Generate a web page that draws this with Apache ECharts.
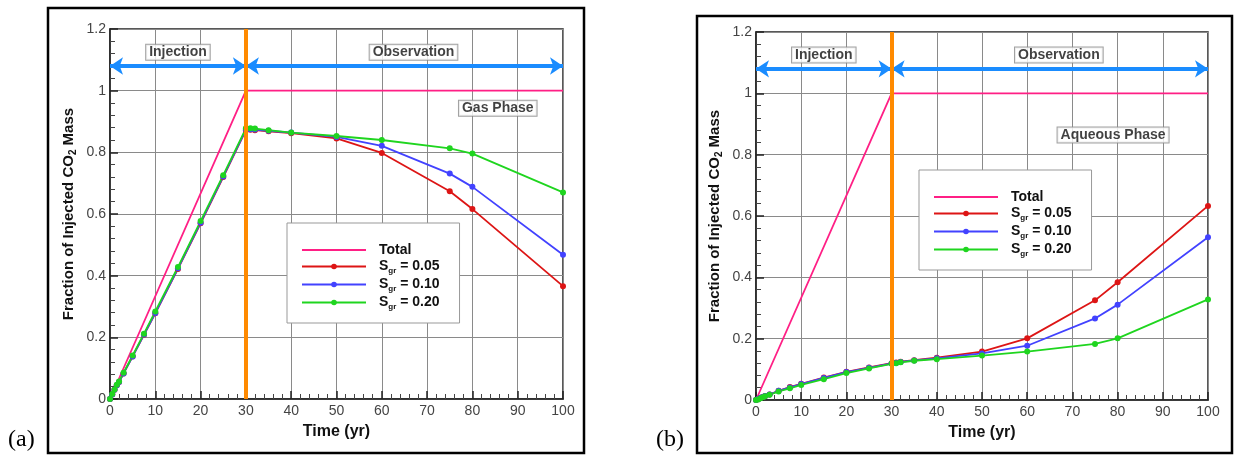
<!DOCTYPE html>
<html>
<head>
<meta charset="utf-8">
<script src="https://cdn.jsdelivr.net/npm/echarts@6/dist/echarts.min.js"></script>
<style>
  html, body { margin: 0; padding: 0; background: #fff; }
  #chart { width: 1235px; height: 461px; }
</style>
</head>
<body>
<div id="chart"></div>
<script>
// Sample times (yr) shared by the three residual-saturation cases
const times = [0, 0.5, 1, 1.5, 2, 3, 5, 7.5, 10, 15, 20, 25, 30, 31, 32, 35, 40, 50, 60, 75, 80, 100];

// Total injected mass (fraction)
const totalTimes = [0, 30, 100];
const totalValues = [0, 1, 1];

// (a) gas phase fraction
const gas05 = [0, 0.015, 0.03, 0.045, 0.055, 0.083, 0.138, 0.208, 0.278, 0.422, 0.570, 0.720, 0.872, 0.873, 0.872, 0.868, 0.862, 0.845, 0.798, 0.674, 0.616, 0.366];
const gas10 = [0, 0.015, 0.03, 0.045, 0.055, 0.083, 0.138, 0.209, 0.279, 0.424, 0.572, 0.722, 0.874, 0.875, 0.874, 0.870, 0.864, 0.850, 0.821, 0.731, 0.688, 0.468];
const gas20 = [0, 0.016, 0.031, 0.046, 0.057, 0.085, 0.141, 0.212, 0.284, 0.428, 0.577, 0.726, 0.878, 0.878, 0.877, 0.872, 0.864, 0.853, 0.840, 0.813, 0.796, 0.670];

// (b) aqueous phase fraction
const aq05 = [0, 0.003, 0.007, 0.010, 0.013, 0.018, 0.030, 0.042, 0.053, 0.073, 0.092, 0.106, 0.120, 0.122, 0.125, 0.130, 0.138, 0.158, 0.201, 0.325, 0.384, 0.633];
const aq10 = [0, 0.003, 0.007, 0.010, 0.013, 0.018, 0.030, 0.041, 0.052, 0.072, 0.091, 0.105, 0.119, 0.121, 0.124, 0.129, 0.136, 0.152, 0.177, 0.266, 0.311, 0.531];
const aq20 = [0, 0.002, 0.006, 0.009, 0.012, 0.017, 0.028, 0.038, 0.049, 0.068, 0.088, 0.103, 0.118, 0.120, 0.123, 0.128, 0.133, 0.145, 0.158, 0.183, 0.201, 0.328];

const seriesNames = ['Total', 'Sgr = 0.05', 'Sgr = 0.10', 'Sgr = 0.20'];
const xTicks = [0, 10, 20, 30, 40, 50, 60, 70, 80, 90, 100];
const yTicks = [0, 0.2, 0.4, 0.6, 0.8, 1, 1.2];

// Period annotations: [x, y, text]
const periodLabels = [[15, 1.125, 'Injection'], [67, 1.125, 'Observation']];
const phaseLabelA = [[85.6, 0.943, 'Gas Phase']];
const phaseLabelB = [[79, 0.864, 'Aqueous Phase']];
const injectionEnd = 30;
const arrowLevel = 1.08;

const COLORS = {
  total: '#ff1f85', s05: '#dd1515', s10: '#4242ff', s20: '#1fd51f',
  orange: '#ff8a00', arrow: '#1a8cff'
};
const FONT = 'Liberation Sans, Arial, sans-serif';

const zip = (xs, ys) => xs.map((x, i) => [x, ys[i]]);

function xAxis(gridIndex) {
  return {
    type: 'value', gridIndex, min: 0, max: 100, interval: 10,
    name: 'Time (yr)', nameLocation: 'middle', nameGap: 25,
    nameTextStyle: { fontFamily: FONT, fontWeight: 'bold', fontSize: 16, color: '#111' },
    axisLine: { show: true, lineStyle: { color: '#222', width: 1.5 } },
    axisTick: { show: true, inside: true, length: 8, lineStyle: { color: '#222', width: 1.5 } },
    minorTick: { show: true, splitNumber: 5, length: 5, lineStyle: { color: '#444', width: 1 } },
    axisLabel: {
      fontFamily: FONT, fontSize: 14, color: '#444', margin: 5,
      formatter: v => xTicks.includes(v) ? String(v) : ''
    },
    splitLine: { show: true, lineStyle: { color: '#8a8a8a', width: 1 } }
  };
}

function yAxis(gridIndex) {
  return {
    type: 'value', gridIndex, min: 0, max: 1.2, interval: 0.2,
    name: 'Fraction of Injected CO{sub|2} Mass', nameLocation: 'middle', nameGap: 32,
    nameTextStyle: {
      fontFamily: FONT, fontWeight: 'bold', fontSize: 15, color: '#111',
      rich: { sub: { fontFamily: FONT, fontWeight: 'bold', fontSize: 10, color: '#111', padding: [8, 0, 0, 0] } }
    },
    axisLine: { show: true, lineStyle: { color: '#222', width: 1.5 } },
    axisTick: { show: true, inside: true, length: 8, lineStyle: { color: '#222', width: 1.5 } },
    minorTick: { show: true, splitNumber: 5, length: 5, lineStyle: { color: '#444', width: 1 } },
    axisLabel: {
      fontFamily: FONT, fontSize: 14, color: '#444', margin: 4,
      formatter: v => {
        const t = yTicks.find(k => Math.abs(k - v) < 1e-6);
        return t === undefined ? '' : String(t);
      }
    },
    splitLine: { show: true, lineStyle: { color: '#8a8a8a', width: 1 } }
  };
}

function dataSeries(idx, name, xs, ys, color, withSymbol) {
  return {
    type: 'line', name, xAxisIndex: idx, yAxisIndex: idx,
    data: zip(xs, ys), z: 3,
    symbol: withSymbol ? 'circle' : 'none', symbolSize: 6, showSymbol: withSymbol,
    lineStyle: { color, width: 1.8 }, itemStyle: { color },
    animation: false
  };
}

function boxLabels(idx, items) {
  return {
    type: 'scatter', name: 'labels' + idx + items[0][2], xAxisIndex: idx, yAxisIndex: idx,
    data: items, symbolSize: 1, itemStyle: { color: 'rgba(0,0,0,0)' }, z: 10, silent: true,
    label: {
      show: true, position: 'inside', formatter: p => p.value[2],
      fontFamily: FONT, fontWeight: 'bold', fontSize: 14, color: '#111',
      backgroundColor: '#fff', borderColor: '#8a8a8a', borderWidth: 1, padding: [1, 3, 0, 3]
    },
    animation: false
  };
}

function guides(idx) {
  return [
    {
      type: 'line', name: 'period' + idx, xAxisIndex: idx, yAxisIndex: idx, data: [], z: 4,
      markLine: {
        silent: true, symbol: ['arrow', 'arrow'], symbolSize: 13, animation: false,
        label: { show: false },
        lineStyle: { color: COLORS.arrow, width: 4, type: 'solid' },
        data: [
          [{ coord: [0, arrowLevel] }, { coord: [injectionEnd, arrowLevel] }],
          [{ coord: [injectionEnd, arrowLevel] }, { coord: [100, arrowLevel] }]
        ]
      }
    },
    {
      type: 'line', name: 'injEnd' + idx, xAxisIndex: idx, yAxisIndex: idx, data: [], z: 5,
      markLine: {
        silent: true, symbol: ['none', 'none'], animation: false,
        label: { show: false },
        lineStyle: { color: COLORS.orange, width: 4, type: 'solid' },
        data: [{ xAxis: injectionEnd }]
      }
    }
  ];
}

function legend(left, top) {
  return {
    // the Total entry is a plain line, without a marker
    data: seriesNames.map(n => n === 'Total'
      ? { name: n, itemStyle: { color: 'rgba(0,0,0,0)', borderWidth: 0 } }
      : n),
    orient: 'vertical', left, top, width: 169,
    itemWidth: 64, itemHeight: 7, itemGap: 1,
    padding: [20, 20, 12, 14],
    backgroundColor: '#fff', borderColor: '#999', borderWidth: 1,
    selectedMode: false,
    formatter: n => n === 'Total' ? '{b|Total}' : '{b|S}{s|gr}{b|' + n.slice(3) + '}',
    textStyle: {
      padding: [0, 0, 0, 8],
      rich: {
        b: { fontFamily: FONT, fontWeight: 'bold', fontSize: 14, color: '#111', lineHeight: 16 },
        s: { fontFamily: FONT, fontWeight: 'bold', fontSize: 8, color: '#111', padding: [9, 0, 0, 0], lineHeight: 16 }
      }
    }
  };
}

const option = {
  animation: false,
  backgroundColor: '#fff',
  grid: [
    { left: 110, top: 29, width: 453, height: 370, show: true, borderColor: '#222', borderWidth: 1.5, backgroundColor: 'transparent' },
    { left: 756, top: 32, width: 452, height: 368, show: true, borderColor: '#222', borderWidth: 1.5, backgroundColor: 'transparent' }
  ],
  xAxis: [xAxis(0), xAxis(1)],
  yAxis: [yAxis(0), yAxis(1)],
  legend: [legend(287, 223), legend(919, 170)],
  graphic: [
    { type: 'rect', shape: { x: 48, y: 8, width: 536, height: 445 }, style: { fill: 'none', stroke: '#000', lineWidth: 2.5 }, z: 100 },
    { type: 'rect', shape: { x: 697, y: 16, width: 535, height: 437 }, style: { fill: 'none', stroke: '#000', lineWidth: 2.5 }, z: 100 },
    { type: 'text', left: 8, top: 428, style: { text: '(a)', font: '24px "Liberation Serif", "Times New Roman", serif', fill: '#000' } },
    { type: 'text', left: 656, top: 428, style: { text: '(b)', font: '24px "Liberation Serif", "Times New Roman", serif', fill: '#000' } }
  ],
  series: [
    dataSeries(0, 'Total', totalTimes, totalValues, COLORS.total, false),
    dataSeries(0, 'Sgr = 0.05', times, gas05, COLORS.s05, true),
    dataSeries(0, 'Sgr = 0.10', times, gas10, COLORS.s10, true),
    dataSeries(0, 'Sgr = 0.20', times, gas20, COLORS.s20, true),
    ...guides(0),
    boxLabels(0, periodLabels),
    boxLabels(0, phaseLabelA),
    dataSeries(1, 'Total', totalTimes, totalValues, COLORS.total, false),
    dataSeries(1, 'Sgr = 0.05', times, aq05, COLORS.s05, true),
    dataSeries(1, 'Sgr = 0.10', times, aq10, COLORS.s10, true),
    dataSeries(1, 'Sgr = 0.20', times, aq20, COLORS.s20, true),
    ...guides(1),
    boxLabels(1, periodLabels),
    boxLabels(1, phaseLabelB)
  ]
};

const chart = echarts.init(document.getElementById('chart'), null, { renderer: 'canvas' });
chart.setOption(option);
</script>
</body>
</html>
